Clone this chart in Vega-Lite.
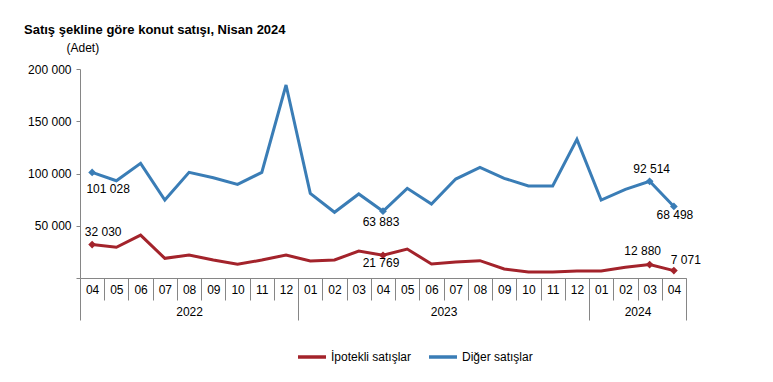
{
  "$schema": "https://vega.github.io/schema/vega-lite/v6.json",
  "autosize": "none",
  "width": 606,
  "height": 209,
  "padding": {"left": 80, "top": 69, "right": 87, "bottom": 104},
  "config": {
    "font": "Liberation Sans",
    "view": {"stroke": null},
    "axis": {"domainColor": "#868686", "tickColor": "#868686", "labelColor": "#000000", "labelFontSize": 12, "labelFont": "Liberation Sans", "grid": false},
    "text": {"font": "Liberation Sans", "fontSize": 12, "color": "#000000"}
  },
  "title": {
    "text": "Satış şekline göre konut satışı, Nisan 2024",
    "anchor": "start",
    "frame": "group",
    "dx": -56,
    "offset": 4,
    "fontSize": 13,
    "fontWeight": "bold",
    "font": "Liberation Sans",
    "color": "#000000"
  },
  "data": {
    "values": [
      {"ym": "2022-04", "seri": "Diğer satışlar", "deger": 101028},
      {"ym": "2022-05", "seri": "Diğer satışlar", "deger": 93100},
      {"ym": "2022-06", "seri": "Diğer satışlar", "deger": 109750},
      {"ym": "2022-07", "seri": "Diğer satışlar", "deger": 74640},
      {"ym": "2022-08", "seri": "Diğer satışlar", "deger": 101100},
      {"ym": "2022-09", "seri": "Diğer satışlar", "deger": 96000},
      {"ym": "2022-10", "seri": "Diğer satışlar", "deger": 89600},
      {"ym": "2022-11", "seri": "Diğer satışlar", "deger": 101100},
      {"ym": "2022-12", "seri": "Diğer satışlar", "deger": 184700},
      {"ym": "2023-01", "seri": "Diğer satışlar", "deger": 81000},
      {"ym": "2023-02", "seri": "Diğer satışlar", "deger": 62900},
      {"ym": "2023-03", "seri": "Diğer satışlar", "deger": 80400},
      {"ym": "2023-04", "seri": "Diğer satışlar", "deger": 63883},
      {"ym": "2023-05", "seri": "Diğer satışlar", "deger": 85800},
      {"ym": "2023-06", "seri": "Diğer satışlar", "deger": 70800},
      {"ym": "2023-07", "seri": "Diğer satışlar", "deger": 94700},
      {"ym": "2023-08", "seri": "Diğer satışlar", "deger": 105900},
      {"ym": "2023-09", "seri": "Diğer satışlar", "deger": 95400},
      {"ym": "2023-10", "seri": "Diğer satışlar", "deger": 88000},
      {"ym": "2023-11", "seri": "Diğer satışlar", "deger": 88000},
      {"ym": "2023-12", "seri": "Diğer satışlar", "deger": 132700},
      {"ym": "2024-01", "seri": "Diğer satışlar", "deger": 74600},
      {"ym": "2024-02", "seri": "Diğer satışlar", "deger": 84900},
      {"ym": "2024-03", "seri": "Diğer satışlar", "deger": 92514},
      {"ym": "2024-04", "seri": "Diğer satışlar", "deger": 68498},
      {"ym": "2022-04", "seri": "İpotekli satışlar", "deger": 32030},
      {"ym": "2022-05", "seri": "İpotekli satışlar", "deger": 29400},
      {"ym": "2022-06", "seri": "İpotekli satışlar", "deger": 41100},
      {"ym": "2022-07", "seri": "İpotekli satışlar", "deger": 18800},
      {"ym": "2022-08", "seri": "İpotekli satışlar", "deger": 22000},
      {"ym": "2022-09", "seri": "İpotekli satışlar", "deger": 17200},
      {"ym": "2022-10", "seri": "İpotekli satışlar", "deger": 13100},
      {"ym": "2022-11", "seri": "İpotekli satışlar", "deger": 17200},
      {"ym": "2022-12", "seri": "İpotekli satışlar", "deger": 22000},
      {"ym": "2023-01", "seri": "İpotekli satışlar", "deger": 16300},
      {"ym": "2023-02", "seri": "İpotekli satışlar", "deger": 17200},
      {"ym": "2023-03", "seri": "İpotekli satışlar", "deger": 25800},
      {"ym": "2023-04", "seri": "İpotekli satışlar", "deger": 21769},
      {"ym": "2023-05", "seri": "İpotekli satışlar", "deger": 27700},
      {"ym": "2023-06", "seri": "İpotekli satışlar", "deger": 13400},
      {"ym": "2023-07", "seri": "İpotekli satışlar", "deger": 15300},
      {"ym": "2023-08", "seri": "İpotekli satışlar", "deger": 16600},
      {"ym": "2023-09", "seri": "İpotekli satışlar", "deger": 8600},
      {"ym": "2023-10", "seri": "İpotekli satışlar", "deger": 5700},
      {"ym": "2023-11", "seri": "İpotekli satışlar", "deger": 5700},
      {"ym": "2023-12", "seri": "İpotekli satışlar", "deger": 6700},
      {"ym": "2024-01", "seri": "İpotekli satışlar", "deger": 6800},
      {"ym": "2024-02", "seri": "İpotekli satışlar", "deger": 10200},
      {"ym": "2024-03", "seri": "İpotekli satışlar", "deger": 12880},
      {"ym": "2024-04", "seri": "İpotekli satışlar", "deger": 7071}
    ]
  },
  "layer": [
    {
      "mark": {"type": "line", "strokeWidth": 3},
      "encoding": {
        "x": {"field": "ym", "type": "ordinal",
          "axis": {"orient": "bottom", "title": null, "labelExpr": "slice(datum.value, 5)", "labelAngle": 0, "ticks": false, "tickSize": 0, "labelPadding": 6, "domain": true}},
        "y": {"field": "deger", "type": "quantitative", "scale": {"domain": [0, 200000], "nice": false},
          "axis": {"values": [0, 50000, 100000, 150000, 200000], "labelExpr": "datum.value == 0 ? '' : replace(format(datum.value, ','), ',', ' ')", "tickSize": 4, "labelPadding": 5, "title": "(Adet)", "titleAngle": 0, "titleX": -14, "titleY": -22, "titleAlign": "left", "titleBaseline": "middle", "titleFontWeight": "normal", "titleFontSize": 12, "titleFont": "Liberation Sans", "titleColor": "#000000"}},
        "color": {"field": "seri", "type": "nominal",
          "scale": {"domain": ["İpotekli satışlar", "Diğer satışlar"], "range": ["#A3232B", "#3A7DB6"]},
          "legend": {"orient": "none", "legendX": 216, "legendY": 272, "direction": "horizontal", "title": null, "symbolType": "stroke", "symbolSize": 784, "symbolStrokeWidth": 3.5, "labelFontSize": 12, "labelColor": "#000000", "labelOffset": 3, "columnPadding": 10}}
      }
    },
    {
      "transform": [{"filter": {"field": "ym", "oneOf": ["2022-04", "2023-04", "2024-03", "2024-04"]}}],
      "mark": {"type": "point", "shape": "diamond", "filled": true, "opacity": 1, "size": 60},
      "encoding": {
        "x": {"field": "ym", "type": "ordinal", "axis": {"orient": "bottom", "title": null, "labels": false, "domain": false, "tickSize": 22, "tickOffset": 12.12}},
        "y": {"field": "deger", "type": "quantitative"},
        "color": {"field": "seri", "type": "nominal"}
      }
    },
    {
      "transform": [{"filter": "datum.seri == 'Diğer satışlar' && datum.ym == '2022-04'"}, {"calculate": "replace(format(datum.deger, ','), ',', ' ')", "as": "etiket"}],
      "mark": {"type": "text", "dx": 16, "dy": 17},
      "encoding": {
        "x": {"field": "ym", "type": "ordinal", "axis": {"orient": "bottom", "title": null, "values": ["2022-04", "2023-01", "2024-01"], "tickOffset": -12.12, "tickSize": 42, "labels": false, "domain": false}},
        "y": {"field": "deger", "type": "quantitative"},
        "text": {"field": "etiket", "type": "nominal"}
      }
    },
    {
      "transform": [{"filter": "datum.seri == 'İpotekli satışlar' && datum.ym == '2022-04'"}, {"calculate": "replace(format(datum.deger, ','), ',', ' ')", "as": "etiket"}],
      "mark": {"type": "text", "dx": 11, "dy": -13},
      "encoding": {
        "x": {"field": "ym", "type": "ordinal", "axis": {"orient": "bottom", "title": null, "values": ["2024-04"], "tickOffset": 12.12, "tickSize": 42, "labels": false, "domain": false}},
        "y": {"field": "deger", "type": "quantitative"},
        "text": {"field": "etiket", "type": "nominal"}
      }
    },
    {
      "transform": [{"filter": "datum.seri == 'Diğer satışlar' && datum.ym == '2023-04'"}, {"calculate": "replace(format(datum.deger, ','), ',', ' ')", "as": "etiket"}],
      "mark": {"type": "text", "dx": -2, "dy": 11},
      "encoding": {
        "x": {"field": "ym", "type": "ordinal", "axis": {"orient": "bottom", "title": null, "values": ["2023-07", "2024-03"], "ticks": false, "tickSize": 0, "labelOffset": -12.12, "labelPadding": 28, "labelExpr": "slice(datum.value, 0, 4)", "labelAngle": 0, "domain": false}},
        "y": {"field": "deger", "type": "quantitative"},
        "text": {"field": "etiket", "type": "nominal"}
      }
    },
    {
      "transform": [{"filter": "datum.seri == 'İpotekli satışlar' && datum.ym == '2023-04'"}, {"calculate": "replace(format(datum.deger, ','), ',', ' ')", "as": "etiket"}],
      "mark": {"type": "text", "dx": -2, "dy": 8},
      "encoding": {
        "x": {"field": "ym", "type": "ordinal", "axis": {"orient": "bottom", "title": null, "values": ["2022-08"], "ticks": false, "tickSize": 0, "labelPadding": 28, "labelExpr": "slice(datum.value, 0, 4)", "labelAngle": 0, "domain": false}},
        "y": {"field": "deger", "type": "quantitative"},
        "text": {"field": "etiket", "type": "nominal"}
      }
    },
    {
      "transform": [{"filter": "datum.seri == 'Diğer satışlar' && datum.ym == '2024-03'"}, {"calculate": "replace(format(datum.deger, ','), ',', ' ')", "as": "etiket"}],
      "mark": {"type": "text", "dx": 2, "dy": -12},
      "encoding": {
        "x": {"field": "ym", "type": "ordinal", "axis": null},
        "y": {"field": "deger", "type": "quantitative"},
        "text": {"field": "etiket", "type": "nominal"}
      }
    },
    {
      "transform": [{"filter": "datum.seri == 'Diğer satışlar' && datum.ym == '2024-04'"}, {"calculate": "replace(format(datum.deger, ','), ',', ' ')", "as": "etiket"}],
      "mark": {"type": "text", "dx": 1, "dy": 9},
      "encoding": {
        "x": {"field": "ym", "type": "ordinal", "axis": null},
        "y": {"field": "deger", "type": "quantitative"},
        "text": {"field": "etiket", "type": "nominal"}
      }
    },
    {
      "transform": [{"filter": "datum.seri == 'İpotekli satışlar' && datum.ym == '2024-03'"}, {"calculate": "replace(format(datum.deger, ','), ',', ' ')", "as": "etiket"}],
      "mark": {"type": "text", "dx": -7, "dy": -14},
      "encoding": {
        "x": {"field": "ym", "type": "ordinal", "axis": null},
        "y": {"field": "deger", "type": "quantitative"},
        "text": {"field": "etiket", "type": "nominal"}
      }
    },
    {
      "transform": [{"filter": "datum.seri == 'İpotekli satışlar' && datum.ym == '2024-04'"}, {"calculate": "replace(format(datum.deger, ','), ',', ' ')", "as": "etiket"}],
      "mark": {"type": "text", "dx": 12, "dy": -11},
      "encoding": {
        "x": {"field": "ym", "type": "ordinal", "axis": null},
        "y": {"field": "deger", "type": "quantitative"},
        "text": {"field": "etiket", "type": "nominal"}
      }
    }
  ],
  "resolve": {"axis": {"x": "independent"}}
}
